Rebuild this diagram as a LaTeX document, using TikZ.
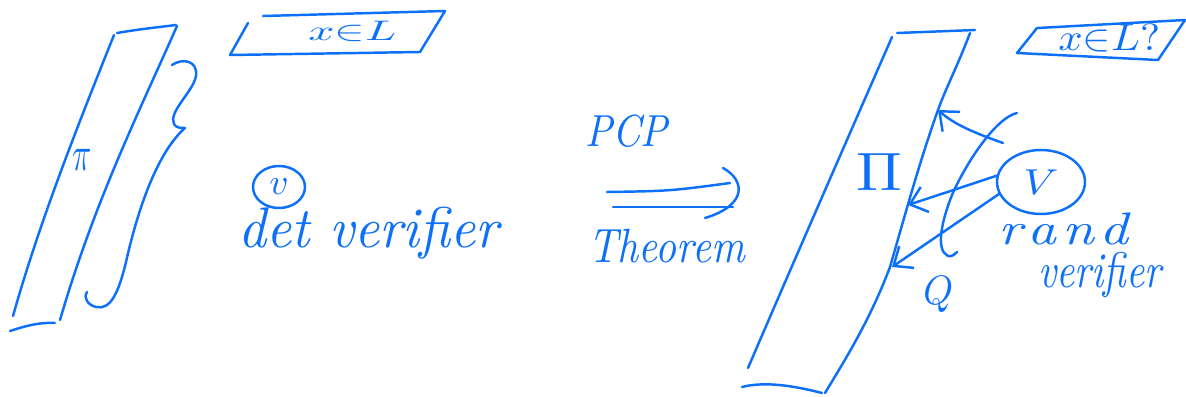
\documentclass[tikz,border=0pt]{standalone}
\usepackage{graphicx}
\usetikzlibrary{arrows.meta,shapes.geometric}
\definecolor{ink}{RGB}{12,112,250}
\begin{document}
\begin{tikzpicture}[x=0.02cm,y=-0.02cm,
  pen/.style={draw=ink,line width=1.4pt,line cap=round,line join=round},
  arr/.style={pen,-{Straight Barb[length=9pt,width=15pt,line width=1.4pt]}},
  lbl/.style={text=ink,inner sep=0pt,anchor=base west,font=\itshape},
  bubble/.style={pen,ellipse,inner sep=0pt,text=ink,font=\itshape}]
\useasboundingbox (0,0) rectangle (1186,396);

% ---------- left tape ----------
\draw[pen] (117,33) .. controls (140,29) and (160,27) .. (176,25);
\draw[pen] (114,35) .. controls (80,120) and (40,220) .. (13,316);
\draw[pen] (177,26) .. controls (140,110) and (95,200) .. (60,320);
\draw[pen] (10,331) .. controls (25,326) and (40,322) .. (55,323);
\node[lbl] (pil) at (72,170) {\resizebox{11pt}{12pt}{$\pi$}};

% brace
\draw[pen] (172,65) .. controls (182,58) and (198,60) .. (196,76)
  .. controls (193,92) and (168,112) .. (174,124)
  .. controls (176,128) and (181,128) .. (185,128)
  .. controls (160,150) and (140,200) .. (126,262)
  .. controls (118,295) and (110,310) .. (96,307)
  .. controls (88,305) and (83,298) .. (87,292);

% x in L box
\draw[pen] (248,23) -- (230,55) -- (420,52) -- (445,11) -- (263,16);
\node[lbl] (xl1) at (308,40) {\resizebox{50pt}{11pt}{$x{\in}L$}};

% det verifier
\node[bubble,minimum width=1.04cm,minimum height=0.84cm] (vl) at (279,187)
  {\resizebox{11pt}{9pt}{$v$}};
\node[lbl] (dv) at (238,247) {\resizebox{148pt}{23pt}{det verifier}};

% ---------- middle ----------
\node[lbl] (pcp) at (585,146) {\resizebox{47pt}{18pt}{PCP}};
\coordinate (m1) at (607,192);
\coordinate (m2) at (613,207);
\draw[pen] (m1) .. controls (670,191) .. (730,183);
\draw[pen] (m2) -- (733,207);
\draw[pen] (723,168) .. controls (745,180) and (748,205) .. (705,218);
\node[lbl] (thm) at (588,262) {\resizebox{89pt}{19pt}{Theorem}};

% ---------- right tape ----------
\draw[pen] (897,33) -- (975,30);
\draw[pen] (892,37) .. controls (860,110) and (790,270) .. (748,368);
\draw[pen] (970,33) .. controls (958,65) and (945,90) .. (938,110)
  .. controls (920,160) and (905,215) .. (890,267)
  .. controls (870,320) and (845,360) .. (825,393);
\draw[pen] (742,387) .. controls (765,381) and (795,386) .. (822,393);
\node[lbl] (Pi) at (856,190) {\resizebox{26pt}{21pt}{$\Pi$}};

% x in L? box
\draw[pen] (1037,28) -- (1017,53) -- (1158,60) -- (1185,20) -- (1038,28);
\node[lbl] (xl2) at (1058,50) {\resizebox{58pt}{15pt}{$x{\in}L?$}};

% randomized verifier
\node[bubble,minimum width=1.76cm,minimum height=1.28cm] (vr) at (1041,182)
  {\resizebox{20pt}{14pt}{$V$}};
\node[lbl] (rand) at (998,244) {\resizebox{74pt}{18pt}{r\kern1pt a\kern1pt n\kern1pt d}};
\node[lbl] (ver) at (1038,287) {\resizebox{70pt}{20pt}{verifier}};

% queries
\coordinate (t1) at (938,110);
\coordinate (t2) at (908,205);
\coordinate (t3) at (892,267);
\coordinate (c3) at (1003,143);
\draw[arr] (c3) .. controls (975,133) and (955,125) .. (t1);
\draw[arr] (vr.172) -- (t2);
\draw[arr] (vr.196) -- (t3);
\draw[pen] (1017,113) .. controls (995,118) and (965,165) .. (952,195)
  .. controls (942,220) and (935,250) .. (948,256)
  .. controls (952,257) and (955,254) .. (957,252);
\node[lbl] (Q) at (923,304) {\resizebox{17pt}{16pt}{$Q$}};
\end{tikzpicture}
\end{document}
